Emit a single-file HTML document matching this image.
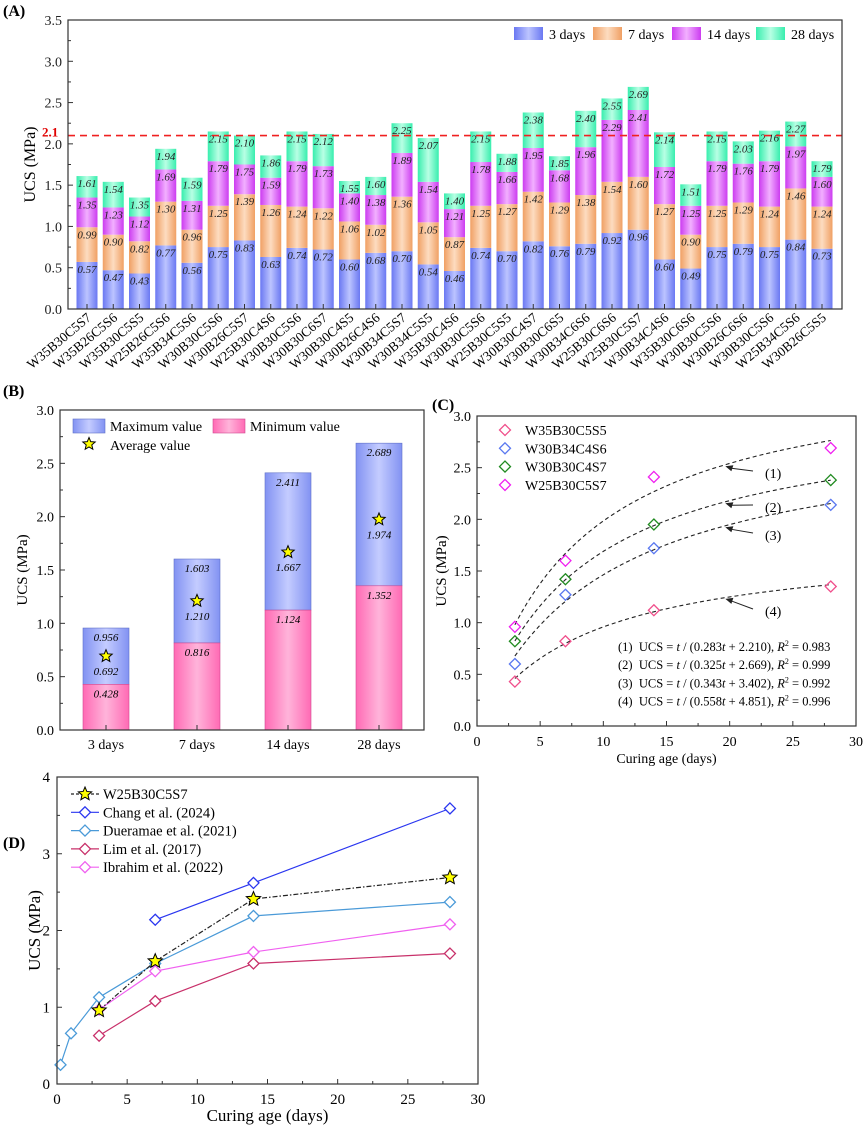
<!DOCTYPE html>
<html><head><meta charset="utf-8">
<style>
html,body{margin:0;padding:0;background:#fff;}
svg, svg text, svg tspan{font-family:"Liberation Serif","Times New Roman",serif !important;}
</style></head>
<body>
<svg id="fig" width="865" height="1131" viewBox="0 0 865 1131" font-family="Liberation Serif, serif" xmlns="http://www.w3.org/2000/svg">
<defs>
<linearGradient id="gBlue" x1="0" x2="1" y1="0" y2="0"><stop offset="0" stop-color="#6a78f2"/><stop offset="0.5" stop-color="#bcc4ff"/><stop offset="1" stop-color="#6a78f2"/></linearGradient>
<linearGradient id="gOrange" x1="0" x2="1"><stop offset="0" stop-color="#f0a064"/><stop offset="0.5" stop-color="#fddcc0"/><stop offset="1" stop-color="#f0a064"/></linearGradient>
<linearGradient id="gMag" x1="0" x2="1"><stop offset="0" stop-color="#cc3cf0"/><stop offset="0.5" stop-color="#f2b0ff"/><stop offset="1" stop-color="#cc3cf0"/></linearGradient>
<linearGradient id="gCyan" x1="0" x2="1"><stop offset="0" stop-color="#38eeae"/><stop offset="0.5" stop-color="#b8ffe4"/><stop offset="1" stop-color="#38eeae"/></linearGradient>
<linearGradient id="gMax" x1="0" x2="1"><stop offset="0" stop-color="#8292f2"/><stop offset="0.5" stop-color="#c4ccff"/><stop offset="1" stop-color="#8292f2"/></linearGradient>
<linearGradient id="gMin" x1="0" x2="1"><stop offset="0" stop-color="#ff6ab4"/><stop offset="0.5" stop-color="#ffb4da"/><stop offset="1" stop-color="#ff6ab4"/></linearGradient>
</defs>
</svg>
<script>
// ---------- Panel A data ----------
const mixes = ["W35B30C5S7","W35B26C5S6","W35B30C5S5","W25B26C5S6","W35B34C5S6","W30B30C5S6","W30B26C5S7","W25B30C4S6","W30B30C5S6","W30B30C6S7","W30B30C4S5","W30B26C4S6","W30B34C5S7","W30B34C5S5","W35B30C4S6","W30B30C5S6","W25B30C5S5","W30B30C4S7","W30B30C6S5","W30B34C6S6","W25B30C6S6","W25B30C5S7","W30B34C4S6","W35B30C6S6","W30B30C5S6","W30B26C6S6","W30B30C5S6","W25B34C5S6","W30B26C5S5"];
const ucs3 = [0.57,0.47,0.43,0.77,0.56,0.75,0.83,0.63,0.74,0.72,0.60,0.68,0.70,0.54,0.46,0.74,0.70,0.82,0.76,0.79,0.92,0.96,0.60,0.49,0.75,0.79,0.75,0.84,0.73];
const ucs7 = [0.99,0.90,0.82,1.30,0.96,1.25,1.39,1.26,1.24,1.22,1.06,1.02,1.36,1.05,0.87,1.25,1.27,1.42,1.29,1.38,1.54,1.60,1.27,0.90,1.25,1.29,1.24,1.46,1.24];
const ucs14 = [1.35,1.23,1.12,1.69,1.31,1.79,1.75,1.59,1.79,1.73,1.40,1.38,1.89,1.54,1.21,1.78,1.66,1.95,1.68,1.96,2.29,2.41,1.72,1.25,1.79,1.76,1.79,1.97,1.60];
const ucs28 = [1.61,1.54,1.35,1.94,1.59,2.15,2.10,1.86,2.15,2.12,1.55,1.60,2.25,2.07,1.40,2.15,1.88,2.38,1.85,2.40,2.55,2.69,2.14,1.51,2.15,2.03,2.16,2.27,1.79];
const thresholdA = 2.1;
const ticksA = [0,0.5,1.0,1.5,2.0,2.5,3.0,3.5];
// ---------- Panel B data ----------
const agesB = ["3 days","7 days","14 days","28 days"];
const maxB = [0.956,1.603,2.411,2.689];
const minB = [0.428,0.816,1.124,1.352];
const avgB = [0.692,1.210,1.667,1.974];
const ticksB = [0,0.5,1.0,1.5,2.0,2.5,3.0];
// ---------- Panel C data ----------
const daysC = [3,7,14,28];
const cNames = ["W35B30C5S5","W30B34C4S6","W30B30C4S7","W25B30C5S7"];
const cVals1 = [0.43,0.82,1.12,1.35];
const cVals2 = [0.60,1.27,1.72,2.14];
const cVals3 = [0.82,1.42,1.95,2.38];
const cVals4 = [0.96,1.60,2.41,2.69];
const fitA = [0.283,0.325,0.343,0.558];
const fitB = [2.210,2.669,3.402,4.851];
const fitR2 = ["0.983","0.999","0.992","0.996"];
const ticksCx = [0,5,10,15,20,25,30];
const ticksCy = [0,0.5,1.0,1.5,2.0,2.5,3.0];
// ---------- Panel D data ----------
const dNames = ["W25B30C5S7","Chang et al. (2024)","Dueramae et al. (2021)","Lim et al. (2017)","Ibrahim et al. (2022)"];
const dX0 = [3,7,14,28];            const dY0 = [0.96,1.60,2.41,2.69];
const dX1 = [7,14,28];              const dY1 = [2.14,2.62,3.59];
const dX2 = [0.25,1,3,7,14,28];     const dY2 = [0.25,0.66,1.13,1.57,2.19,2.37];
const dX3 = [3,7,14,28];            const dY3 = [0.63,1.08,1.57,1.70];
const dX4 = [3,7,14,28];            const dY4 = [0.97,1.47,1.72,2.08];
const ticksDx = [0,5,10,15,20,25,30];
const ticksDy = [0,1,2,3,4];

const svg = document.getElementById('fig');
const NS = "http://www.w3.org/2000/svg";
function mk(tag, attrs, parent, text){
  const e = document.createElementNS(NS, tag);
  for (const k in attrs) e.setAttribute(k, attrs[k]);
  if (tag==='text') e.setAttribute('font-family','Liberation Serif, serif');
  if (text !== undefined) e.textContent = text;
  (parent||svg).appendChild(e);
  return e;
}
function grp(name){
  const g = mk('g', {});
  
  
  return g;
}
function diamond(g, x, y, s, stroke, fill){
  return mk('path', {d:`M${x} ${y-s}L${x+s} ${y}L${x} ${y+s}L${x-s} ${y}Z`, fill:fill||'none', stroke, 'stroke-width':1.3}, g);
}
function star(g, x, y, r){
  let d = '';
  for (let i=0;i<10;i++){
    const rr = i%2===0 ? r : r*0.45;
    const a = -Math.PI/2 + i*Math.PI/5;
    d += (i===0?'M':'L') + (x+rr*Math.cos(a)).toFixed(2) + ' ' + (y+rr*Math.sin(a)).toFixed(2);
  }
  return mk('path', {d:d+'Z', fill:'#ffff00', stroke:'#000', 'stroke-width':1}, g);
}

// ================= Panel A =================
(function(){
  const L=68,R=842,T=20,B=309, ymax=3.5;
  const y = v => B - v/ymax*(B-T);
  const cx = i => 87 + i*26.25;
  const bw = 21;
  const g = grp('panel-a');
  const lbl = mk('text',{x:3,y:16,'font-size':16,'font-weight':'bold'},g,'(A)');
   
  const fills = ['url(#gBlue)','url(#gOrange)','url(#gMag)','url(#gCyan)'];
  const series = [ucs3,ucs7,ucs14,ucs28];
  mixes.forEach((m,i)=>{
    const bg = mk('g',{},g);
    
    
    let prev = 0;
    series.forEach((s,k)=>{
      const top = s[i];
      mk('rect',{x:cx(i)-bw/2,y:y(top),width:bw,height:y(prev)-y(top),fill:fills[k]},bg);
      mk('text',{x:cx(i),y:y(top)+11,'font-size':11,'font-style':'italic','text-anchor':'middle',fill:'#222'},bg,top.toFixed(2));
      prev = top;
    });
  });
  const th = mk('line',{x1:L,x2:R,y1:y(thresholdA),y2:y(thresholdA),stroke:'#f02020','stroke-width':1.6,'stroke-dasharray':'7,5'},g);
   
  mk('text',{x:42,y:y(thresholdA)+1,'font-size':13,'font-weight':'bold',fill:'#e00000'},g,'2.1');
  mk('rect',{x:L,y:T,width:R-L,height:B-T,fill:'none',stroke:'#333','stroke-width':1.2},g);
  ticksA.forEach(t=>{
    mk('line',{x1:L,x2:L+5,y1:y(t),y2:y(t),stroke:'#333'},g);
    if (t!==thresholdA) mk('text',{x:L-6,y:y(t)+5,'font-size':14,'text-anchor':'end',fill:'#222'},g,t.toFixed(1));
    if (t<ymax) mk('line',{x1:L,x2:L+3,y1:y(t+0.25),y2:y(t+0.25),stroke:'#333'},g);
  });
  const yt = mk('text',{x:0,y:0,'font-size':16,'text-anchor':'middle',transform:`translate(35,${(T+B)/2}) rotate(-90)`},g,'UCS (MPa)');
   
  mixes.forEach((m,i)=>{
    mk('line',{x1:cx(i),x2:cx(i),y1:B,y2:B-5,stroke:'#333'},g);
    mk('text',{x:0,y:0,'font-size':13.5,'text-anchor':'end',transform:`translate(${cx(i)+5},${B+10}) rotate(-40)`},g,m);
  });
  const leg = mk('g',{},g);
   
  const names = ['3 days','7 days','14 days','28 days'];
  const lx = [514,593,672,756];
  names.forEach((n,k)=>{
    mk('rect',{x:lx[k],y:27,width:29,height:13,fill:fills[k]},leg);
    mk('text',{x:lx[k]+35,y:39,'font-size':14},leg,n);
  });
})();

// ================= Panel B =================
(function(){
  const L=60,R=424,T=410,B=730,ymax=3;
  const y = v => B - v/ymax*(B-T);
  const cx = i => 106 + i*91;
  const bw = 46;
  const g = grp('panel-b');
  mk('text',{x:3,y:396,'font-size':16,'font-weight':'bold'},g,'(B)');
  agesB.forEach((a,i)=>{
    const bg = mk('g',{},g);
    
    
    mk('rect',{x:cx(i)-bw/2,y:y(maxB[i]),width:bw,height:y(minB[i])-y(maxB[i]),fill:'url(#gMax)',stroke:'#6070c8','stroke-width':0.6},bg);
    mk('rect',{x:cx(i)-bw/2,y:y(minB[i]),width:bw,height:B-y(minB[i]),fill:'url(#gMin)',stroke:'#d04890','stroke-width':0.6},bg);
    mk('text',{x:cx(i),y:y(maxB[i])+13,'font-size':11,'font-style':'italic','text-anchor':'middle'},bg,maxB[i].toFixed(3));
    mk('text',{x:cx(i),y:y(minB[i])+13,'font-size':11,'font-style':'italic','text-anchor':'middle'},bg,minB[i].toFixed(3));
    star(bg,cx(i),y(avgB[i]),6.5);
    mk('text',{x:cx(i),y:y(avgB[i])+19,'font-size':11,'font-style':'italic','text-anchor':'middle'},bg,avgB[i].toFixed(3));
  });
  mk('rect',{x:L,y:T,width:R-L,height:B-T,fill:'none',stroke:'#333','stroke-width':1.2},g);
  ticksB.forEach(t=>{
    mk('line',{x1:L,x2:L+5,y1:y(t),y2:y(t),stroke:'#333'},g);
    mk('text',{x:L-6,y:y(t)+5,'font-size':14,'text-anchor':'end'},g,t.toFixed(1));
    if (t<ymax) mk('line',{x1:L,x2:L+3,y1:y(t+0.25),y2:y(t+0.25),stroke:'#333'},g);
  });
  agesB.forEach((a,i)=>{
    mk('line',{x1:cx(i),x2:cx(i),y1:B,y2:B-5,stroke:'#333'},g);
    mk('text',{x:cx(i),y:B+19,'font-size':14,'text-anchor':'middle'},g,a);
  });
  mk('text',{x:0,y:0,'font-size':15,'text-anchor':'middle',transform:`translate(27,${(T+B)/2}) rotate(-90)`},g,'UCS (MPa)');
  const leg = mk('g',{},g);
   
  mk('rect',{x:73,y:419,width:32,height:14,fill:'url(#gMax)',stroke:'#6070c8','stroke-width':0.6},leg);
  mk('text',{x:110,y:431,'font-size':14},leg,'Maximum value');
  mk('rect',{x:213,y:419,width:32,height:14,fill:'url(#gMin)',stroke:'#d04890','stroke-width':0.6},leg);
  mk('text',{x:250,y:431,'font-size':14},leg,'Minimum value');
  star(leg,89,444,6.5);
  mk('text',{x:110,y:450,'font-size':14},leg,'Average value');
})();

// ================= Panel C =================
(function(){
  const L=477,R=856,T=416,B=726,xmax=30,ymax=3;
  const x = v => L + v/xmax*(R-L);
  const y = v => B - v/ymax*(B-T);
  const g = grp('panel-c');
  mk('text',{x:432,y:410,'font-size':16,'font-weight':'bold'},g,'(C)');
  const cols = ['#f0508c','#5a78f0','#208a20','#f020f0'];
  const vals = [cVals1,cVals2,cVals3,cVals4];
  fitA.forEach((a,k)=>{
    let d='';
    for (let t=3;t<=28.01;t+=0.5){ const v=t/(a*t+fitB[k]); d+=(t===3?'M':'L')+x(t).toFixed(1)+' '+y(v).toFixed(1); }
    const p = mk('path',{d,fill:'none',stroke:'#222','stroke-width':1.1,'stroke-dasharray':'4,3'},g);
     
  });
  const annT = [19.5,19.5,19.5,19.5];
  const annLab = [[765,478],[765,512],[765,540],[765,616]];
  fitA.forEach((a,k)=>{
    const t=annT[k], v=t/(a*t+fitB[k]);
    const px=x(t)+2, py=y(v)+1;
    const [lx,ly] = annLab[k];
    mk('line',{x1:lx-12,y1:ly-7,x2:px+6,y2:py+2,stroke:'#222','stroke-width':1},g);
    mk('path',{d:`M${px} ${py}L${px+8} ${py-1}L${px+6} ${py+5}Z`,fill:'#222'},g);
    mk('text',{x:lx,y:ly,'font-size':14},g,'('+(k+1)+')');
  });
  cNames.forEach((n,k)=>{
    const sg = mk('g',{},g);
    
    
    daysC.forEach((d,i)=>diamond(sg,x(d),y(vals[k][i]),5.5,cols[k]));
  });
  mk('rect',{x:L,y:T,width:R-L,height:B-T,fill:'none',stroke:'#333','stroke-width':1.2},g);
  ticksCy.forEach(t=>{
    mk('line',{x1:L,x2:L+5,y1:y(t),y2:y(t),stroke:'#333'},g);
    mk('text',{x:L-6,y:y(t)+5,'font-size':14,'text-anchor':'end'},g,t.toFixed(1));
    if (t<ymax) mk('line',{x1:L,x2:L+3,y1:y(t+0.25),y2:y(t+0.25),stroke:'#333'},g);
  });
  ticksCx.forEach(t=>{
    mk('line',{x1:x(t),x2:x(t),y1:B,y2:B-5,stroke:'#333'},g);
    mk('text',{x:x(t),y:B+20,'font-size':14,'text-anchor':'middle'},g,String(t));
    if (t<xmax) mk('line',{x1:x(t+2.5),x2:x(t+2.5),y1:B,y2:B-3,stroke:'#333'},g);
  });
  mk('text',{x:(L+R)/2,y:B+37,'font-size':14,'text-anchor':'middle'},g,'Curing age (days)');
  mk('text',{x:0,y:0,'font-size':15,'text-anchor':'middle',transform:`translate(446,${(T+B)/2}) rotate(-90)`},g,'UCS (MPa)');
  const leg = mk('g',{},g);
   
  cNames.forEach((n,k)=>{
    const ly = 430 + k*18.3;
    diamond(leg,505,ly,5.5,cols[k]);
    mk('text',{x:525,y:ly+5,'font-size':14},leg,n);
  });
  const eq = mk('g',{},g);
   
  fitA.forEach((a,k)=>{
    const t = mk('text',{x:618,y:651+k*18.2,'font-size':12.5},eq);
    t.innerHTML = `(${k+1})&#160; UCS = <tspan font-style="italic">t</tspan> / (${a.toFixed(3)}<tspan font-style="italic">t</tspan> + ${fitB[k].toFixed(3)}), <tspan font-style="italic">R</tspan><tspan font-size="8" dy="-5">2</tspan><tspan dy="5"> = ${fitR2[k]}</tspan>`;
  });
})();

// ================= Panel D =================
(function(){
  const L=57,R=478,T=777,B=1084,xmax=30,ymax=4;
  const x = v => L + v/xmax*(R-L);
  const y = v => B - v/ymax*(B-T);
  const g = grp('panel-d');
  mk('text',{x:3,y:848,'font-size':16,'font-weight':'bold'},g,'(D)');
  const cols = ['#222','#2a36f0','#4a9ad8','#c8306a','#f060f0'];
  const xs = [dX0,dX1,dX2,dX3,dX4], ys=[dY0,dY1,dY2,dY3,dY4];
  [1,2,3,4,0].forEach(k=>{
    const sg = mk('g',{},g);
    
    
    const pts = xs[k].map((v,i)=>x(v).toFixed(1)+','+y(ys[k][i]).toFixed(1)).join(' ');
    const ln = mk('polyline',{points:pts,fill:'none',stroke:cols[k],'stroke-width':1.2},sg);
    if (k===0) ln.setAttribute('stroke-dasharray','5,2,1.5,2');
    xs[k].forEach((v,i)=>{
      if (k===0) star(sg,x(v),y(ys[k][i]),7.5);
      else diamond(sg,x(v),y(ys[k][i]),5.5,cols[k],'#fff');
    });
  });
  mk('rect',{x:L,y:T,width:R-L,height:B-T,fill:'none',stroke:'#333','stroke-width':1.2},g);
  ticksDy.forEach(t=>{
    mk('line',{x1:L,x2:L+5,y1:y(t),y2:y(t),stroke:'#333'},g);
    mk('text',{x:L-7,y:y(t)+5,'font-size':15,'text-anchor':'end'},g,String(t));
    if (t<ymax) mk('line',{x1:L,x2:L+3,y1:y(t+0.5),y2:y(t+0.5),stroke:'#333'},g);
  });
  ticksDx.forEach(t=>{
    mk('line',{x1:x(t),x2:x(t),y1:B,y2:B-5,stroke:'#333'},g);
    mk('text',{x:x(t),y:B+20,'font-size':15,'text-anchor':'middle'},g,String(t));
    if (t<xmax) mk('line',{x1:x(t+2.5),x2:x(t+2.5),y1:B,y2:B-3,stroke:'#333'},g);
  });
  mk('text',{x:(L+R)/2,y:B+37,'font-size':17,'text-anchor':'middle'},g,'Curing age (days)');
  mk('text',{x:0,y:0,'font-size':17,'text-anchor':'middle',transform:`translate(40,${(T+B)/2}) rotate(-90)`},g,'UCS (MPa)');
  const leg = mk('g',{},g);
   
  dNames.forEach((n,k)=>{
    const ly = 794 + k*18.3;
    const ln = mk('line',{x1:71,x2:99,y1:ly,y2:ly,stroke:cols[k],'stroke-width':1.2},leg);
    if (k===0){ ln.setAttribute('stroke-dasharray','3,2'); star(leg,85,ly,7); }
    else diamond(leg,85,ly,5.5,cols[k],'#fff');
    mk('text',{x:103,y:ly+5,'font-size':14.5},leg,n);
  });
})();
</script>
</body></html>
